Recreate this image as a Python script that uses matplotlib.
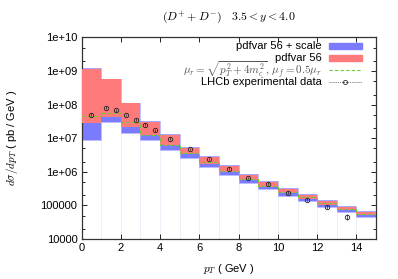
import numpy as np
import matplotlib
matplotlib.use("Agg")
import matplotlib.pyplot as plt
from matplotlib.patches import Rectangle
from matplotlib.lines import Line2D

plt.rcParams['font.family'] = ['Liberation Sans', 'DejaVu Sans']
plt.rcParams['mathtext.fontset'] = 'cm'

# ----- data (log10 of dsigma/dpT, pb/GeV) -----
edges = np.arange(0, 16, 1)
scale_hi = [9.08, 8.76, 8.06, 7.52, 7.13, 6.75, 6.47, 6.20, 5.95, 5.72, 5.52, 5.34, 5.16, 4.99, 4.84]
scale_lo = [6.96, 7.47, 7.17, 6.94, 6.65, 6.40, 6.14, 5.92, 5.68, 5.49, 5.29, 5.13, 4.96, 4.81, 4.66]
pdf_hi = [9.07, 8.75, 8.04, 7.49, 7.10, 6.71, 6.43, 6.17, 5.92, 5.69, 5.49, 5.31, 5.13, 4.96, 4.81]
pdf_lo = [7.44, 7.63, 7.32, 7.09, 6.79, 6.52, 6.23, 5.99, 5.76, 5.56, 5.36, 5.20, 5.02, 4.86, 4.71]
central = [7.66, 7.74, 7.48, 7.11, 6.81, 6.56, 6.29, 6.03, 5.79, 5.59, 5.40, 5.24, 5.06, 4.90, 4.75]

lhcb_pt = [0.5, 1.25, 1.75, 2.25, 2.75, 3.25, 3.75, 4.5, 5.5, 6.5, 7.5, 8.5, 9.5, 10.5, 11.5, 12.5, 13.5]
lhcb_val = [5.0e7, 8.0e7, 6.7e7, 4.9e7, 3.6e7, 2.5e7, 1.7e7, 9.6e6, 4.8e6, 2.4e6,
            1.23e6, 6.6e5, 4.4e5, 2.4e5, 1.48e5, 8.9e4, 4.6e4]
lhcb_err = [0.12, 0.10, 0.10, 0.10, 0.10, 0.10, 0.10, 0.10, 0.10, 0.10,
            0.10, 0.10, 0.10, 0.10, 0.12, 0.15, 0.25]

ytick_vals = [1e4, 1e5, 1e6, 1e7, 1e8, 1e9, 1e10]
ytick_labels = ["10000", "100000", "1e+06", "1e+07", "1e+08", "1e+09", "1e+10"]
xtick_vals = [0, 2, 4, 6, 8, 10, 12, 14]

BLUE = "#7b7bff"
RED = "#ff7b7b"
GREEN = "#66cc33"

fig = plt.figure(figsize=(3.98, 2.79), dpi=100)
ax = fig.add_axes([0.205, 0.143, 0.740, 0.723])

p = lambda a: 10 ** np.asarray(a)

# faint bin-edge lines below the bands
lo = np.asarray(scale_lo)
ax.vlines(edges[1:-1], 1e4, p(np.minimum(lo[:-1], lo[1:])), color="#ececf8", lw=0.6, zorder=1)

ax.stairs(p(scale_hi), edges, baseline=p(scale_lo), fill=True, color=BLUE, zorder=2)
ax.stairs(p(scale_hi), edges, baseline=p(scale_lo), fill=False, color="#b0b0ff", lw=0.6, zorder=2)
ax.stairs(p(pdf_hi), edges, baseline=p(pdf_lo), fill=True, color=RED, zorder=3)
ax.stairs(p(central), edges, baseline=None, color=GREEN, lw=0.8, ls=(0, (3, 2)), zorder=4)

lv = np.asarray(lhcb_val)
le = np.asarray(lhcb_err)
ax.errorbar(lhcb_pt, lv, yerr=[lv * le / (1 + le), lv * le], fmt="o", ms=3.2, mfc="none",
            mec="#222222", mew=0.6, ecolor="#222222", elinewidth=0.5, capsize=0, zorder=5)

ax.set_yscale("log")
ax.set_xlim(0, 15)
ax.set_ylim(1e4, 1e10)
ax.set_yticks(ytick_vals)
ax.set_yticklabels(ytick_labels)
ax.yaxis.set_minor_locator(matplotlib.ticker.LogLocator(base=10, subs=(2.0, 5.0)))
ax.yaxis.set_minor_formatter(matplotlib.ticker.NullFormatter())
ax.set_xticks(xtick_vals)
ax.set_xticklabels([str(v) for v in xtick_vals])
ax.tick_params(which="both", direction="in", top=True, right=True, labelsize=8, width=0.6, pad=3)
ax.tick_params(which="major", length=3.5)
ax.tick_params(which="minor", length=2)
for s in ax.spines.values():
    s.set_linewidth(0.9)
    s.set_color("#333333")

ax.set_xlabel(r"$p_T$ ( GeV )", fontsize=8)
ax.xaxis.set_label_coords(0.5, -0.15)
ax.xaxis.label.set_va("center")
ax.set_ylabel(r"$d\sigma/dp_T$ ( pb / GeV )", fontsize=8)
ax.yaxis.set_label_coords(-0.237, 0.5)
ax.yaxis.label.set_va("center")

fig.text(0.575, 0.938, r"$(D^{+}+D^{-})\quad 3.5 < y < 4.0$", ha="center", va="center", fontsize=8.5)

# ----- legend (gnuplot style, right aligned) -----
tx, x0, x1 = 0.815, 0.840, 0.951
rows = [0.958, 0.899, 0.836, 0.778]
labels = ["pdfvar 56 + scale", "pdfvar 56",
          r"$\mu_r = \sqrt{p_T^2 + 4m_c^2},\,\mu_f = 0.5\mu_r$", "LHCb experimental data"]
for r, lab in zip(rows, labels):
    is_math = lab.startswith("$")
    ax.text(tx, r, lab, transform=ax.transAxes, ha="right", va="center",
            fontsize=8, color="#555555" if is_math else "black")
ax.add_patch(Rectangle((x0, rows[0] - 0.015), x1 - x0, 0.03, transform=ax.transAxes, color=BLUE))
ax.add_patch(Rectangle((x0, rows[1] - 0.015), x1 - x0, 0.03, transform=ax.transAxes, color=RED))
ax.add_line(Line2D([x0, x1], [rows[2]] * 2, transform=ax.transAxes, color=GREEN, lw=0.8, ls=(0, (3, 2))))
ax.add_line(Line2D([x0, x1], [rows[3]] * 2, transform=ax.transAxes, color="#333333", lw=0.6, ls=(0, (1, 1.5))))
ax.add_line(Line2D([(x0 + x1) / 2], [rows[3]], transform=ax.transAxes, marker="o", ms=3, mfc="none",
                   mec="#333333", mew=0.6))

fig.savefig("out.png", dpi=100)
